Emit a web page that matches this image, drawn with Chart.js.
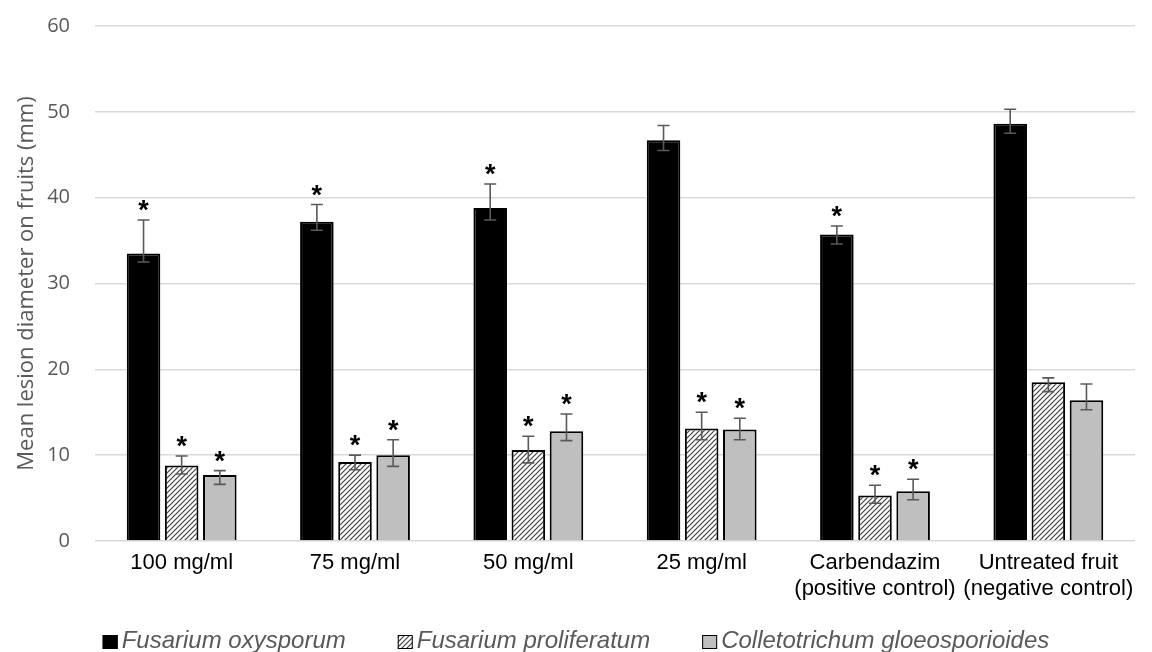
<!DOCTYPE html>
<html>
<head>
<meta charset="utf-8">
<script src="https://cdn.jsdelivr.net/npm/chart.js@4"></script>
<style>
  html, body { margin: 0; padding: 0; background: #fff; }
  #wrap { width: 1152px; height: 652px; }
</style>
</head>
<body>
<div id="wrap"><canvas id="chart"></canvas></div>
<script>
const categories = ['100 mg/ml', '75 mg/ml', '50 mg/ml', '25 mg/ml',
  ['Carbendazim', '(positive control)'], ['Untreated fruit', '(negative control)']];
const yTicks = [0, 10, 20, 30, 40, 50, 60];

const oxysporum = [33.5, 37.2, 38.8, 46.7, 35.7, 48.6];
const oxysporumHi = [37.4, 39.2, 41.6, 48.4, 36.7, 50.3];
const oxysporumLo = [32.5, 36.2, 37.4, 45.5, 34.6, 47.5];
const oxysporumStar = [true, true, true, false, true, false];

const proliferatum = [8.8, 9.2, 10.6, 13.1, 5.3, 18.5];
const proliferatumHi = [9.9, 10.0, 12.2, 15.0, 6.5, 19.0];
const proliferatumLo = [7.8, 8.3, 9.1, 11.8, 4.4, 17.4];
const proliferatumStar = [true, true, true, true, true, false];

const gloeo = [7.7, 10.0, 12.8, 13.0, 5.8, 16.4];
const gloeoHi = [8.2, 11.8, 14.8, 14.3, 7.2, 18.3];
const gloeoLo = [6.6, 8.7, 11.7, 11.8, 4.8, 15.3];
const gloeoStar = [true, true, true, true, true, false];

// diagonal hatch for the middle series
function hatch() {
  const c = document.createElement('canvas');
  c.width = 5; c.height = 5;
  const g = c.getContext('2d');
  g.fillStyle = '#fff';
  g.fillRect(0, 0, 5, 5);
  g.strokeStyle = '#404040';
  g.lineWidth = 1.2;
  g.beginPath();
  g.moveTo(-1, 6); g.lineTo(6, -1);
  g.moveTo(-1, 1); g.lineTo(1, -1);
  g.moveTo(4, 6); g.lineTo(6, 4);
  g.stroke();
  return g.createPattern(c, 'repeat');
}

const errorBars = {
  id: 'errorBars',
  afterDatasetsDraw(chart) {
    const ctx = chart.ctx;
    const y = chart.scales.y;
    chart.data.datasets.forEach((ds, di) => {
      const meta = chart.getDatasetMeta(di);
      meta.data.forEach((bar, i) => {
        const top = y.getPixelForValue(ds.hi[i]);
        const bot = y.getPixelForValue(ds.lo[i]);
        ctx.save();
        ctx.strokeStyle = '#595959';
        ctx.lineWidth = 1.6;
        ctx.beginPath();
        ctx.moveTo(bar.x, top); ctx.lineTo(bar.x, bot);
        ctx.moveTo(bar.x - 6, top); ctx.lineTo(bar.x + 6, top);
        ctx.moveTo(bar.x - 6, bot); ctx.lineTo(bar.x + 6, bot);
        ctx.stroke();
        if (ds.star[i]) {
          ctx.fillStyle = '#000';
          ctx.font = 'bold 27px "Liberation Sans", Arial, sans-serif';
          ctx.textAlign = 'center';
          ctx.textBaseline = 'alphabetic';
          ctx.fillText('*', bar.x, top - 1);
        }
        ctx.restore();
      });
    });
  }
};

// legend drawn under the axis, wide gaps like the original
const bottomLegend = {
  id: 'bottomLegend',
  afterDraw(chart) {
    const ctx = chart.ctx;
    ctx.save();
    ctx.font = 'italic 24px "Liberation Sans", Arial, sans-serif';
    const box = 15, gap = 4, between = 52;
    const items = chart.data.datasets.map(ds => ({ ds, w: ctx.measureText(ds.label).width }));
    const total = items.reduce((s, it) => s + box + gap + it.w, 0) + between * (items.length - 1);
    let x = (chart.width - total) / 2;
    const base = 648;
    items.forEach(it => {
      ctx.fillStyle = it.ds.backgroundColor;
      ctx.fillRect(x, base - 13, box, 14);
      ctx.strokeStyle = '#000';
      ctx.lineWidth = 1;
      ctx.strokeRect(x + 0.5, base - 12.5, box - 1, 13);
      ctx.fillStyle = '#595959';
      ctx.textBaseline = 'alphabetic';
      ctx.fillText(it.ds.label, x + box + gap, base);
      x += box + gap + it.w + between;
    });
    ctx.restore();
  }
};

new Chart(document.getElementById('chart'), {
  type: 'bar',
  data: {
    labels: categories,
    datasets: [
      { label: 'Fusarium oxysporum', data: oxysporum, hi: oxysporumHi, lo: oxysporumLo, star: oxysporumStar,
        backgroundColor: '#000', borderColor: '#000', borderWidth: 2 },
      { label: 'Fusarium proliferatum', data: proliferatum, hi: proliferatumHi, lo: proliferatumLo, star: proliferatumStar,
        backgroundColor: hatch(), borderColor: '#000', borderWidth: 2 },
      { label: 'Colletotrichum gloeosporioides', data: gloeo, hi: gloeoHi, lo: gloeoLo, star: gloeoStar,
        backgroundColor: '#bfbfbf', borderColor: '#000', borderWidth: 2 }
    ]
  },
  options: {
    responsive: true,
    maintainAspectRatio: false,
    animation: false,
    categoryPercentage: 0.66,
    barPercentage: 0.88,
    layout: { padding: { left: 0, right: 17, top: 26, bottom: 0 } },
    plugins: {
      tooltip: { enabled: false },
      legend: { display: false }
    },
    scales: {
      x: {
        grid: { display: false },
        border: { display: false },
        afterFit: (axis) => { axis.height = 111; },
        ticks: {
          color: '#000',
          padding: 1,
          autoSkip: false,
          maxRotation: 0,
          minRotation: 0,
          font: { family: '"Liberation Sans", Arial, sans-serif', size: 22, lineHeight: 1.18 }
        }
      },
      y: {
        min: 0,
        max: 60,
        afterBuildTicks: (axis) => { axis.ticks = yTicks.map(v => ({ value: v })); },
        afterFit: (axis) => { axis.width = 95; },
        grid: { color: '#d9d9d9', lineWidth: 1.6, drawTicks: true, tickLength: 20, tickColor: 'rgba(0,0,0,0)' },
        border: { display: false },
        ticks: {
          color: '#595959',
          padding: 5,
          font: { family: '"Open Sans", sans-serif', size: 20 }
        },
        title: {
          display: true,
          text: 'Mean lesion diameter on fruits (mm)',
          color: '#595959',
          padding: { top: 14, bottom: 0 },
          font: { family: '"Open Sans", sans-serif', size: 22 }
        }
      }
    }
  },
  plugins: [errorBars, bottomLegend]
});
</script>
</body>
</html>
